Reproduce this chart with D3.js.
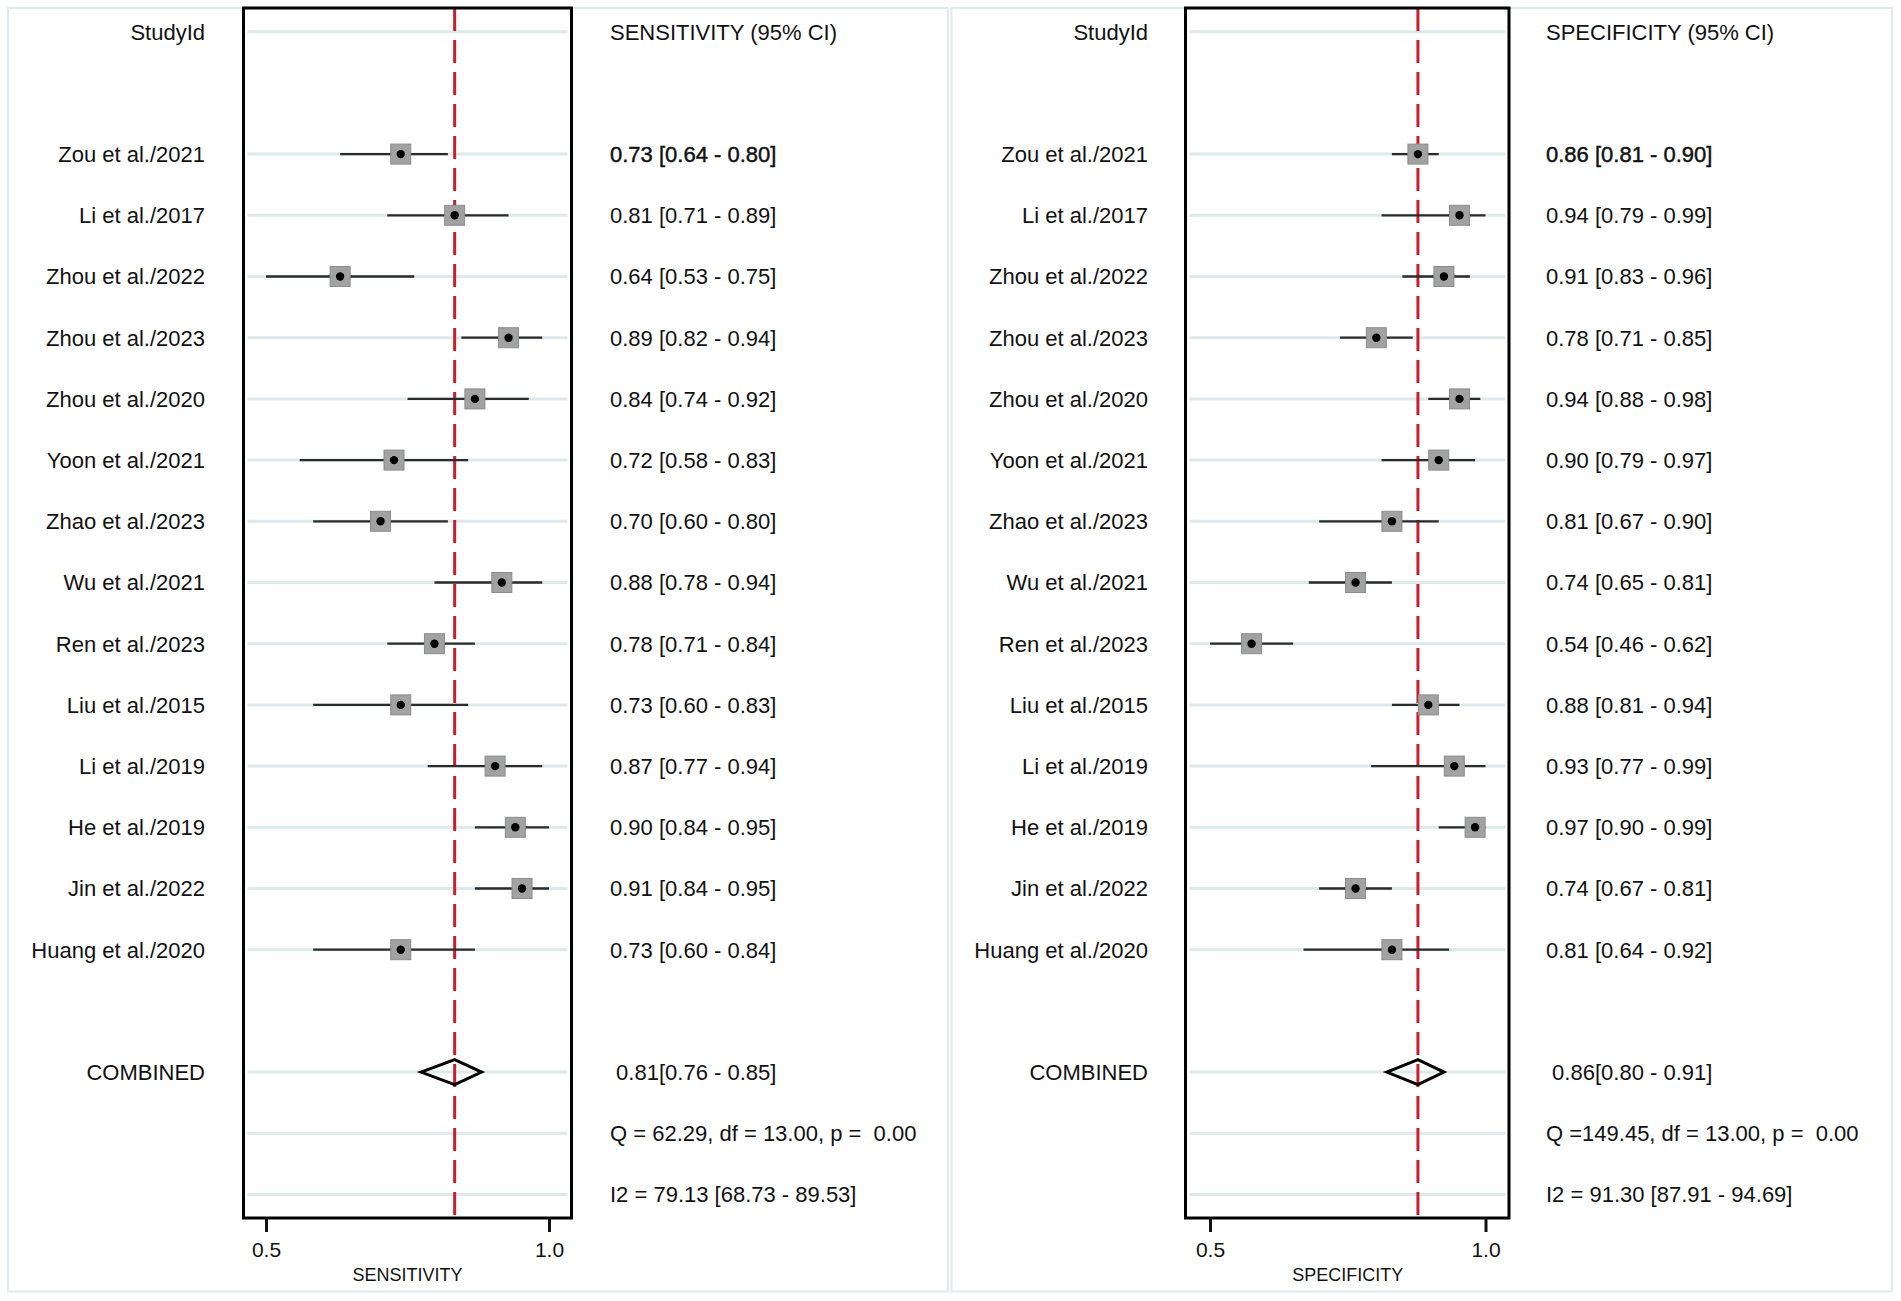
<!DOCTYPE html>
<html>
<head>
<meta charset="utf-8">
<script src="https://cdn.jsdelivr.net/npm/d3@7"></script>
<style>
  body { margin: 0; background: #fff; }
  text { font-family: "Liberation Sans", Arial, sans-serif; fill: #111; white-space: pre; }
</style>
</head>
<body>
<div id="viz"></div>
<script>
var width = 1901;
var height = 1301;

// data
var studies = ['Zou et al./2021', 'Li et al./2017', 'Zhou et al./2022', 'Zhou et al./2023',
  'Zhou et al./2020', 'Yoon et al./2021', 'Zhao et al./2023', 'Wu et al./2021',
  'Ren et al./2023', 'Liu et al./2015', 'Li et al./2019', 'He et al./2019',
  'Jin et al./2022', 'Huang et al./2020'];

var sens   = [0.73, 0.81, 0.64, 0.89, 0.84, 0.72, 0.70, 0.88, 0.78, 0.73, 0.87, 0.90, 0.91, 0.73];
var sensLo = [0.64, 0.71, 0.53, 0.82, 0.74, 0.58, 0.60, 0.78, 0.71, 0.60, 0.77, 0.84, 0.84, 0.60];
var sensHi = [0.80, 0.89, 0.75, 0.94, 0.92, 0.83, 0.80, 0.94, 0.84, 0.83, 0.94, 0.95, 0.95, 0.84];

var spec   = [0.86, 0.94, 0.91, 0.78, 0.94, 0.90, 0.81, 0.74, 0.54, 0.88, 0.93, 0.97, 0.74, 0.81];
var specLo = [0.81, 0.79, 0.83, 0.71, 0.88, 0.79, 0.67, 0.65, 0.46, 0.81, 0.77, 0.90, 0.67, 0.64];
var specHi = [0.90, 0.99, 0.96, 0.85, 0.98, 0.97, 0.90, 0.81, 0.62, 0.94, 0.99, 0.99, 0.81, 0.92];

var pooledSens = [0.81, 0.76, 0.85];   // estimate, lower, upper
var pooledSpec = [0.86, 0.80, 0.91];

var hetQ  = [62.29, 149.45];
var hetDf = [13.00, 13.00];
var hetP  = [0.00, 0.00];
var i2Sens = [79.13, 68.73, 89.53];
var i2Spec = [91.30, 87.91, 94.69];

var tickLabels = ['0.5', '1.0'];

// layout
var rowY = d3.scaleLinear().domain([0, 19]).range([31.7, 31.7 + 19 * 61.2]);
var studyRow0 = 2, combinedRow = 17, qRow = 18, i2Row = 19;
var gridRows = [0].concat(d3.range(2, 16), [17, 18, 19]);
var boxTop = 8, boxBottom = 1218;
var frameTop = 8, frameBottom = 1291.5;

var panels = [
  {
    measure: 'SENSITIVITY', est: sens, lo: sensLo, hi: sensHi, pooled: pooledSens,
    q: hetQ[0], df: hetDf[0], p: hetP[0], i2: i2Sens,
    frame: [8, 948], box: [243.5, 571.5], range: [266, 549], labelX: 205, valueX: 610
  },
  {
    measure: 'SPECIFICITY', est: spec, lo: specLo, hi: specHi, pooled: pooledSpec,
    q: hetQ[1], df: hetDf[1], p: hetP[1], i2: i2Spec,
    frame: [951.5, 1892], box: [1185.5, 1509], range: [1210, 1485.5], labelX: 1148, valueX: 1546
  }
];

var f2 = d3.format('.2f');
var capShift = 0.716 * 22 / 2;

var svg = d3.select('#viz').append('svg')
  .attr('width', width)
  .attr('height', height);

svg.append('rect')
  .attr('width', width).attr('height', height)
  .style('fill', '#fff');

panels.forEach(function (pn) {
  // the plotted range runs from the smallest lower bound to the largest upper bound
  var x = d3.scaleLinear()
    .domain([d3.min(pn.lo), d3.max(pn.hi)])
    .range(pn.range);

  var g = svg.append('g');

  // outer panel frame
  g.append('rect')
    .attr('x', pn.frame[0]).attr('y', frameTop)
    .attr('width', pn.frame[1] - pn.frame[0])
    .attr('height', frameBottom - frameTop)
    .style('fill', 'none')
    .style('stroke', '#e1ebed')
    .style('stroke-width', 2);

  // grid lines
  g.selectAll('line.grid')
    .data(gridRows).enter()
    .append('line')
    .attr('class', 'grid')
    .attr('x1', pn.box[0] + 4).attr('x2', pn.box[1] - 4)
    .attr('y1', function (d) { return rowY(d); })
    .attr('y2', function (d) { return rowY(d); })
    .style('stroke', '#dee9eb')
    .style('stroke-width', 3);

  // pooled estimate line
  g.append('line')
    .attr('x1', x(pn.pooled[0])).attr('x2', x(pn.pooled[0]))
    .attr('y1', boxTop).attr('y2', boxBottom)
    .style('stroke', '#c81f2d')
    .style('stroke-width', 3)
    .style('stroke-dasharray', '23,9');

  var rows = studies.map(function (s, i) {
    return { name: s, est: pn.est[i], lo: pn.lo[i], hi: pn.hi[i], y: rowY(studyRow0 + i) };
  });

  // confidence intervals
  g.selectAll('line.ci')
    .data(rows).enter()
    .append('line')
    .attr('class', 'ci')
    .attr('x1', function (d) { return x(d.lo); })
    .attr('x2', function (d) { return x(d.hi); })
    .attr('y1', function (d) { return d.y; })
    .attr('y2', function (d) { return d.y; })
    .style('stroke', '#2b2b2b')
    .style('stroke-width', 2.3);

  // weight squares
  g.selectAll('rect.sq')
    .data(rows).enter()
    .append('rect')
    .attr('class', 'sq')
    .attr('x', function (d) { return x(d.est) - 10; })
    .attr('y', function (d) { return d.y - 10; })
    .attr('width', 20).attr('height', 20)
    .style('fill', '#a2a2a2')
    .style('stroke', '#8c8c8c')
    .style('stroke-width', 1);

  g.selectAll('circle.pt')
    .data(rows).enter()
    .append('circle')
    .attr('class', 'pt')
    .attr('cx', function (d) { return x(d.est); })
    .attr('cy', function (d) { return d.y; })
    .attr('r', 4.2)
    .style('fill', '#000');

  // pooled diamond
  var cy = rowY(combinedRow);
  g.append('path')
    .attr('d', 'M' + x(pn.pooled[1]) + ',' + cy +
      'L' + x(pn.pooled[0]) + ',' + (cy - 12.5) +
      'L' + x(pn.pooled[2]) + ',' + cy +
      'L' + x(pn.pooled[0]) + ',' + (cy + 12.5) + 'Z')
    .style('fill', 'none')
    .style('stroke', '#000')
    .style('stroke-width', 3)
    .style('stroke-linejoin', 'miter');

  // plot box
  g.append('rect')
    .attr('x', pn.box[0]).attr('y', boxTop)
    .attr('width', pn.box[1] - pn.box[0])
    .attr('height', boxBottom - boxTop)
    .style('fill', 'none')
    .style('stroke', '#000')
    .style('stroke-width', 3);

  // axis
  var axis = d3.axisBottom(x)
    .tickValues(x.domain())
    .tickFormat(function (d, i) { return tickLabels[i]; })
    .tickSize(14)
    .tickPadding(10);

  var ax = g.append('g')
    .attr('transform', 'translate(0,' + boxBottom + ')')
    .call(axis);
  ax.select('.domain').remove();
  ax.selectAll('.tick line').style('stroke', '#111').style('stroke-width', 3);
  ax.selectAll('.tick text')
    .style('font-size', '21px')
    .style('font-family', '"Liberation Sans", Arial, sans-serif')
    .style('fill', '#111');

  g.append('text')
    .attr('x', (pn.range[0] + pn.range[1]) / 2)
    .attr('y', 1280.5)
    .attr('text-anchor', 'middle')
    .style('font-size', '18px')
    .text(pn.measure);

  // headers
  g.append('text')
    .attr('x', pn.labelX).attr('y', rowY(0) + capShift)
    .attr('text-anchor', 'end')
    .style('font-size', '22px')
    .text('StudyId');

  g.append('text')
    .attr('x', pn.valueX).attr('y', rowY(0) + capShift)
    .style('font-size', '22px')
    .text(pn.measure + ' (95% CI)');

  // study labels and values
  g.selectAll('text.lab')
    .data(rows).enter()
    .append('text')
    .attr('class', 'lab')
    .attr('x', pn.labelX)
    .attr('y', function (d) { return d.y + capShift; })
    .attr('text-anchor', 'end')
    .style('font-size', '22px')
    .text(function (d) { return d.name; });

  g.selectAll('text.val')
    .data(rows).enter()
    .append('text')
    .attr('class', 'val')
    .attr('x', pn.valueX)
    .attr('y', function (d) { return d.y + capShift; })
    .style('font-size', '22px')
    .style('stroke', function (d, i) { return i === 0 ? '#111' : 'none'; })
    .style('stroke-width', 0.45)
    .text(function (d) { return f2(d.est) + ' [' + f2(d.lo) + ' - ' + f2(d.hi) + ']'; });

  // combined and heterogeneity
  g.append('text')
    .attr('x', pn.labelX).attr('y', cy + capShift)
    .attr('text-anchor', 'end')
    .style('font-size', '22px')
    .text('COMBINED');

  g.append('text')
    .attr('x', pn.valueX).attr('y', cy + capShift)
    .style('font-size', '22px')
    .text(' ' + f2(pn.pooled[0]) + '[' + f2(pn.pooled[1]) + ' - ' + f2(pn.pooled[2]) + ']');

  g.append('text')
    .attr('x', pn.valueX).attr('y', rowY(qRow) + capShift)
    .style('font-size', '22px')
    .text('Q =' + f2(pn.q).padStart(6, ' ') + ', df = ' + f2(pn.df) + ', p =  ' + f2(pn.p));

  g.append('text')
    .attr('x', pn.valueX).attr('y', rowY(i2Row) + capShift)
    .style('font-size', '22px')
    .text('I2 = ' + f2(pn.i2[0]) + ' [' + f2(pn.i2[1]) + ' - ' + f2(pn.i2[2]) + ']');
});
</script>
</body>
</html>
